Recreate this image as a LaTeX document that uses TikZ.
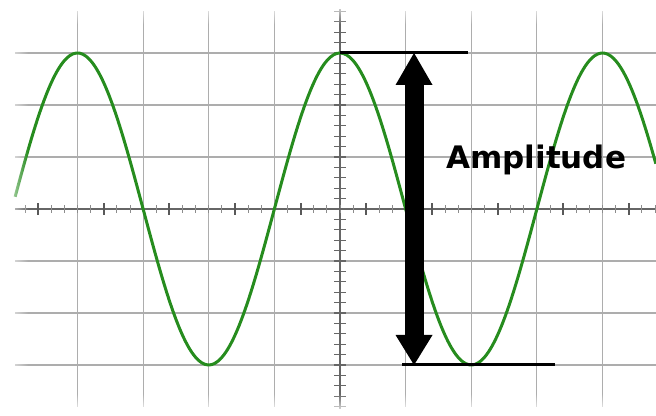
\documentclass[tikz,border=0pt]{standalone}
\usepackage{fontspec}
\setsansfont{DejaVu Sans}
\usetikzlibrary{arrows.meta,fadings}

\begin{document}
\begin{tikzpicture}[x=65.625pt,y=52pt]
\useasboundingbox (-5.181,-3.962) rectangle (4.815,4.019);
% grid
\foreach \i in {-4,...,4}
  \draw[line width=1.2pt,black!32] (\i,-3.8) -- (\i,3.8);
\foreach \j in {-3,-2,-1,1,2,3}
  \draw[line width=1.2pt,black!32] (-4.95,\j) -- (4.815,\j);
% axes with ticks
\draw[line width=1.2pt,black!60] (-4.95,0) -- (4.815,0);
\draw[line width=1.2pt,black!60] (0,-3.85) -- (0,3.85);
\foreach \tx in {-4.8,-4.6,...,4.81}
  \draw[line width=0.8pt,black!45] (\tx,0) ++(0,-4pt) -- ++(0,8pt);
\foreach \tx in {-4.6,-3.6,...,4.41}
  \draw[line width=2pt,black!65] (\tx,0) ++(0,-6pt) -- ++(0,12pt);
\foreach \ty in {-3.8,-3.6,...,3.81}
  \draw[line width=1.2pt,black!60] (0,\ty) ++(-6pt,0) -- ++(12pt,0);
% wave
\draw[line width=3pt,color={rgb,255:red,38;green,140;blue,30}]
  plot[domain=-4.95:4.815,samples=200,smooth] (\x,{3*cos(90*\x)});
% faded edges
\fill[white,path fading=east] (-5.181,-3.962) rectangle (-4.75,4.019);
\fill[white,path fading=north] (-5.181,-3.962) rectangle (4.815,-3.55);
\fill[white,path fading=south] (-5.181,3.55) rectangle (4.815,4.019);
% amplitude marker
\coordinate (ampTop) at (1.128,3);
\coordinate (ampBot) at (1.128,-3);
\draw[line width=3pt] (0,3) -- (1.95,3);
\draw[line width=3pt] (0.945,-3) -- (3.276,-3);
\draw[line width=19pt,{Triangle[width=37pt,length=32pt,line width=0pt]}-{Triangle[width=37pt,length=30pt,line width=0pt]}] (ampTop) -- (ampBot);
\node[font=\sffamily\bfseries\fontsize{31}{31}\selectfont] (amp) at (2.99,0.94) {Amplitude};
\end{tikzpicture}
\end{document}
